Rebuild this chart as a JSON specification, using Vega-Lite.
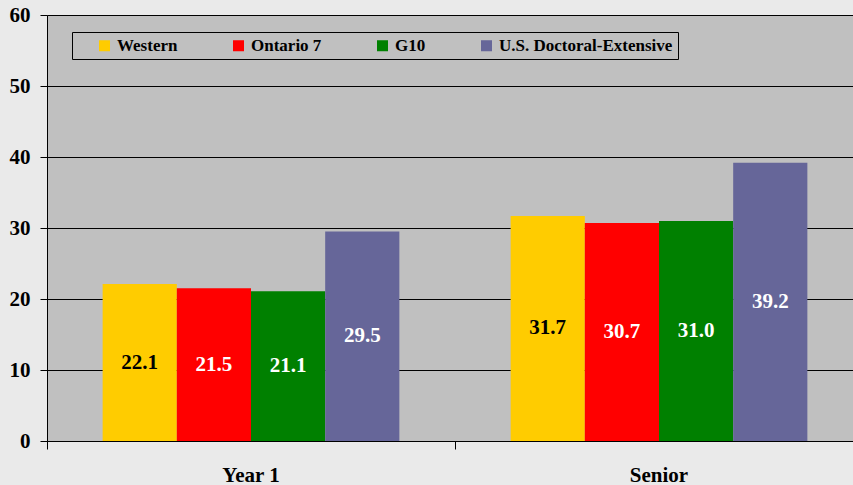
{
  "$schema": "https://vega.github.io/schema/vega-lite/v6.json",
  "width": 806,
  "height": 426,
  "autosize": "none",
  "padding": {"left": 47, "top": 15, "right": 0, "bottom": 44},
  "background": "#EAEAEA",
  "config": {
    "view": {"fill": "#C0C0C0", "stroke": null},
    "font": "Liberation Serif"
  },
  "data": {
    "values": [
      {"group": "Year 1", "series": "Western", "value": 22.1},
      {"group": "Year 1", "series": "Ontario 7", "value": 21.5},
      {"group": "Year 1", "series": "G10", "value": 21.1},
      {"group": "Year 1", "series": "U.S. Doctoral-Extensive", "value": 29.5},
      {"group": "Senior", "series": "Western", "value": 31.7},
      {"group": "Senior", "series": "Ontario 7", "value": 30.7},
      {"group": "Senior", "series": "G10", "value": 31.0},
      {"group": "Senior", "series": "U.S. Doctoral-Extensive", "value": 39.2}
    ]
  },
  "layer": [
    {
      "mark": {"type": "bar"},
      "encoding": {
        "x": {
          "field": "group",
          "type": "nominal",
          "sort": ["Year 1", "Senior"],
          "scale": {"range": [0, 816], "paddingInner": 0, "paddingOuter": 0},
          "axis": {
            "title": null,
            "bandPosition": 0,
            "tickSize": 8,
            "tickColor": "#000000",
            "domainColor": "#000000",
            "labelFont": "Liberation Serif",
            "labelFontWeight": "bold",
            "labelFontSize": 21,
            "labelColor": "#000000",
            "labelPadding": 15,
            "labelAngle": 0,
            "grid": false
          }
        },
        "xOffset": {
          "field": "series",
          "sort": ["Western", "Ontario 7", "G10", "U.S. Doctoral-Extensive"],
          "scale": {"paddingInner": 0, "paddingOuter": 0.75}
        },
        "y": {
          "field": "value",
          "type": "quantitative",
          "scale": {"domain": [0, 60]},
          "axis": {
            "title": null,
            "values": [0, 10, 20, 30, 40, 50, 60],
            "tickSize": 7,
            "tickColor": "#000000",
            "domainColor": "#000000",
            "grid": true,
            "gridColor": "#000000",
            "gridWidth": 1,
            "gridOpacity": 1,
            "labelFont": "Liberation Serif",
            "labelFontWeight": "bold",
            "labelFontSize": 21,
            "labelColor": "#000000",
            "labelPadding": 10
          }
        },
        "color": {
          "field": "series",
          "type": "nominal",
          "sort": ["Western", "Ontario 7", "G10", "U.S. Doctoral-Extensive"],
          "scale": {
            "domain": ["Western", "Ontario 7", "G10", "U.S. Doctoral-Extensive"],
            "range": ["#FFCC00", "#FF0000", "#008000", "#666699"]
          },
          "legend": {
            "orient": "none",
            "legendX": 25,
            "legendY": 17,
            "direction": "horizontal",
            "columns": 4,
            "title": " ",
            "titleOrient": "left",
            "titlePadding": 19,
            "titleFontSize": 17,
            "fillColor": "#C0C0C0",
            "strokeColor": "#000000",
            "padding": 5,
            "symbolType": "square",
            "symbolSize": 121,
            "symbolStrokeWidth": 0,
            "symbolOpacity": 1,
            "labelFont": "Liberation Serif",
            "labelFontWeight": "bold",
            "labelFontSize": 17,
            "labelColor": "#000000",
            "labelOffset": 4,
            "labelLimit": 400,
            "columnPadding": 52,
            "labelExpr": "datum.label == 'U.S. Doctoral-Extensive' ? datum.label + '   ' : datum.label"
          }
        }
      }
    },
    {
      "mark": {
        "type": "text",
        "font": "Liberation Serif",
        "fontWeight": "bold",
        "fontSize": 21,
        "baseline": "middle",
        "align": "center"
      },
      "encoding": {
        "x": {"field": "group", "type": "nominal", "sort": ["Year 1", "Senior"]},
        "xOffset": {
          "field": "series",
          "sort": ["Western", "Ontario 7", "G10", "U.S. Doctoral-Extensive"]
        },
        "y": {
          "field": "value",
          "type": "quantitative",
          "scale": {"domain": [0, 120]},
          "axis": null
        },
        "text": {"field": "value", "type": "quantitative", "format": ".1f"},
        "color": {
          "condition": {"test": "datum.series === 'Western'", "value": "#000000"},
          "value": "#FFFFFF"
        }
      }
    }
  ],
  "resolve": {"scale": {"y": "independent"}}
}
